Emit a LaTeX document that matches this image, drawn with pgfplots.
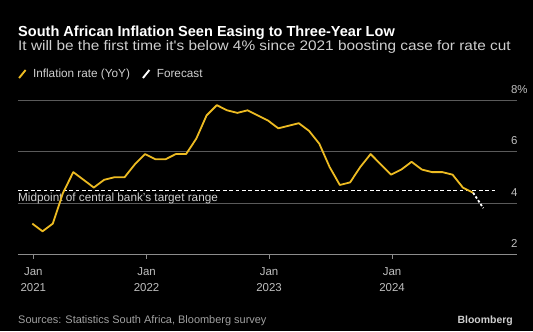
\documentclass[border=0pt]{standalone}
\usepackage{pgfplots}
\pgfplotsset{compat=1.18}
\usepackage{fontspec}
\setmainfont{Liberation Sans}
\newfontfamily\subfont{Liberation Sans}[FakeStretch=1.11]
\definecolor{yel}{HTML}{EDBB22}
\definecolor{grid}{HTML}{5A5A5A}
\definecolor{base}{HTML}{8C8C8C}
\definecolor{tick}{HTML}{BEBEBE}
\definecolor{sub}{HTML}{CFCFCF}
\definecolor{src}{HTML}{A0A0A0}
\begin{document}
\begin{tikzpicture}[x=1bp,y=1bp]
\fill[black] (0,0) rectangle (533,331);
\useasboundingbox (0,0) rectangle (533,331);
\node[anchor=base west, inner sep=0pt, text=white, font=\fontsize{14.6}{17}\selectfont\bfseries] at (18,294.5) {South African Inflation Seen Easing to Three-Year Low};
\node[anchor=base west, inner sep=0pt, text=sub, font=\subfont\fontsize{13.9}{16}\selectfont] at (18,280.5) {It will be the first time it's below 4\% since 2021 boosting case for rate cut};
\node[anchor=base west, inner sep=0pt, text=src, font=\fontsize{11}{13}\selectfont] at (18,8) {Sources: Statistics South Africa, Bloomberg survey};
\node[anchor=base east, inner sep=0pt, text=sub, font=\fontsize{10.5}{13}\selectfont\bfseries] at (513,8) {Bloomberg};
\begin{axis}[
  at={(17.95bp,76.5bp)}, anchor=south west,
  scale only axis, width=499.2bp, height=154.5bp,
  xmin=-1.4, xmax=47.3, ymin=2, ymax=8,
  axis line style={draw=none},
  clip=false,
  ytick={2,4,6,8}, yticklabels={2,4,6,8\rlap{\%}},
  yticklabel pos=right,
  ytick style={draw=none},
  xmajorgrids=false, ymajorgrids=true,
  y grid style={grid, line width=0.8bp},
  yticklabel style={anchor=south east, inner sep=0pt, xshift=-3.5bp, yshift=6.5bp, text=tick, font=\fontsize{11.5}{13}\selectfont},
  xtick={0.1,11.15,23.1,35.1},
  xticklabels={{Jan\\2021},{Jan\\2022},{Jan\\2023},{Jan\\2024}},
  xticklabel style={align=center, text=tick, inner sep=0pt, yshift=-9bp, font=\fontsize{11.5}{16}\selectfont},
  xtick style={base, line width=0.8bp},
  major tick length=4bp, tick align=outside,
  xtick pos=bottom,
  legend style={at={(0,1)}, anchor=west, yshift=26bp, draw=none, fill=none, inner sep=0pt, text=sub, font=\fontsize{11.8}{13}\selectfont, legend columns=2,
    /tikz/every odd column/.append style={column sep=4.5bp},
    /tikz/every even column/.append style={column sep=10bp}},
  legend cell align=left,
  legend image code/.code={\draw[#1, solid, line width=1.9bp] (0bp,-4bp) -- (6.5bp,4bp);},
]
\draw[base, line width=0.8bp] (axis cs:-1.4,2) -- (axis cs:47.3,2);
\addplot[forget plot, white, line width=1.1bp, dash pattern=on 3.8bp off 2.6bp] coordinates {(-1.4,4.5) (45.2,4.5)};
\node[anchor=base west, inner sep=0pt, text=sub, font=\fontsize{11.8}{13}\selectfont] at (axis cs:-1.4,4.5) [yshift=-11.8bp] {Midpoint of central bank's target range};
\addplot[yel, line width=1.8bp, line join=round] coordinates {
(0,3.2) (1,2.9) (2,3.2) (3,4.4) (4,5.2) (5,4.9) (6,4.6) (7,4.9) (8,5.0) (9,5.0) (10,5.5) (11,5.9)
(12,5.7) (13,5.7) (14,5.9) (15,5.9) (16,6.5) (17,7.4) (18,7.8) (19,7.6) (20,7.5) (21,7.6) (22,7.4) (23,7.2)
(24,6.9) (25,7.0) (26,7.1) (27,6.8) (28,6.3) (29,5.4) (30,4.7) (31,4.8) (32,5.4) (33,5.9) (34,5.5) (35,5.1)
(36,5.3) (37,5.6) (38,5.3) (39,5.2) (40,5.2) (41,5.1) (42,4.6) (43,4.4)};
\addlegendentry{Inflation rate (YoY)}
\addplot[white, line width=1.8bp, dash pattern=on 2.5bp off 2bp] coordinates {(43,4.4) (44,3.8)};
\addlegendentry{Forecast}
\end{axis}
\end{tikzpicture}
\end{document}
